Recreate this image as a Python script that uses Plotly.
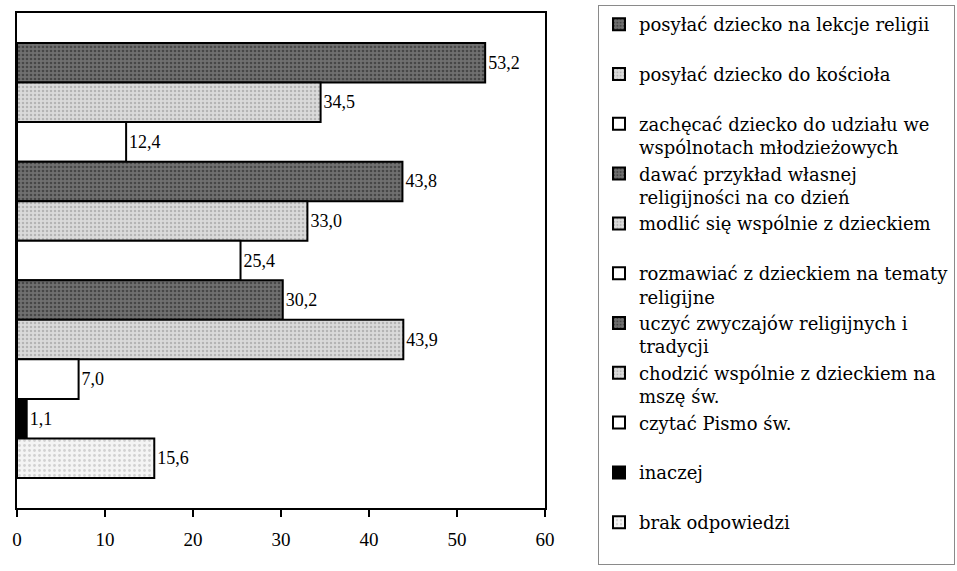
import plotly.graph_objects as go

# Answers, top to bottom
labels = [
    "posyłać dziecko na lekcje religii",
    "posyłać dziecko do kościoła",
    "zachęcać dziecko do udziału we<br>wspólnotach młodzieżowych",
    "dawać przykład własnej<br>religijności na co dzień",
    "modlić się wspólnie z dzieckiem",
    "rozmawiać z dzieckiem na tematy<br>religijne",
    "uczyć zwyczajów religijnych i<br>tradycji",
    "chodzić wspólnie z dzieckiem na<br>mszę św.",
    "czytać Pismo św.",
    "inaczej",
    "brak odpowiedzi",
]
values = [53.2, 34.5, 12.4, 43.8, 33.0, 25.4, 30.2, 43.9, 7.0, 1.1, 15.6]

DARK = dict(color="#5e5e5e", pattern=dict(shape=".", fgcolor="#1e1e1e", bgcolor="#707070", size=4, solidity=0.35))
LIGHT = dict(color="#cfcfcf", pattern=dict(shape=".", fgcolor="#8e8e8e", bgcolor="#dadada", size=4, solidity=0.3))
WHITE = dict(color="#ffffff")
BLACK = dict(color="#000000")
PALE = dict(color="#ececec", pattern=dict(shape=".", fgcolor="#b0b0b0", bgcolor="#f4f4f4", size=5, solidity=0.25))
fills = [DARK, LIGHT, WHITE, DARK, LIGHT, WHITE, DARK, LIGHT, WHITE, BLACK, PALE]

SERIF = "Liberation Serif"
LEGEND_FONT = "DejaVu Serif"

fig = go.Figure()
for i, (lab, val, fill) in enumerate(zip(labels, values, fills)):
    # every legend entry takes two text lines so the entries are evenly spaced
    name = lab if "<br>" in lab else lab + "<br> "
    marker = dict(line=dict(color="#000000", width=2), color=fill["color"])
    if "pattern" in fill:
        marker["pattern"] = fill["pattern"]
    fig.add_trace(go.Bar(
        x=[val], y=[i], orientation="h", name=name, width=1.0,
        marker=marker,
        texttemplate="%{x:.1f}", textposition="outside",
        textfont=dict(family=SERIF, size=18, color="#000000"),
        cliponaxis=False,
    ))

fig.update_layout(
    width=957, height=571,
    margin=dict(l=17, r=412, t=13, b=63, autoexpand=False),
    paper_bgcolor="#ffffff", plot_bgcolor="#ffffff",
    separators=", ",
    barmode="overlay",
    font=dict(family=SERIF, size=18, color="#000000"),
    showlegend=True,
    legend=dict(
        xref="container", yref="container",
        x=598 / 957, xanchor="left", y=1 - 5 / 571, yanchor="top",
        font=dict(family=LEGEND_FONT, size=18, color="#000000"),
        bordercolor="#8a8a8a", borderwidth=1, bgcolor="#ffffff",
        valign="top", itemwidth=30, traceorder="normal",
        maxheight=571,
    ),
    xaxis=dict(
        range=[0, 60], tickvals=[0, 10, 20, 30, 40, 50, 60],
        showgrid=False, zeroline=False,
        showline=True, linecolor="#000000", linewidth=2, mirror=True,
        ticks="outside", ticklen=7, tickwidth=2, tickcolor="#000000",
        ticklabelstandoff=6,
        tickfont=dict(family=SERIF, size=19, color="#000000"),
    ),
    yaxis=dict(
        range=[11.26, -1.26], showticklabels=False, showgrid=False,
        zeroline=False, showline=True, linecolor="#000000", linewidth=2,
        mirror=True, ticks="",
    ),
)

fig.write_html("out.html")
